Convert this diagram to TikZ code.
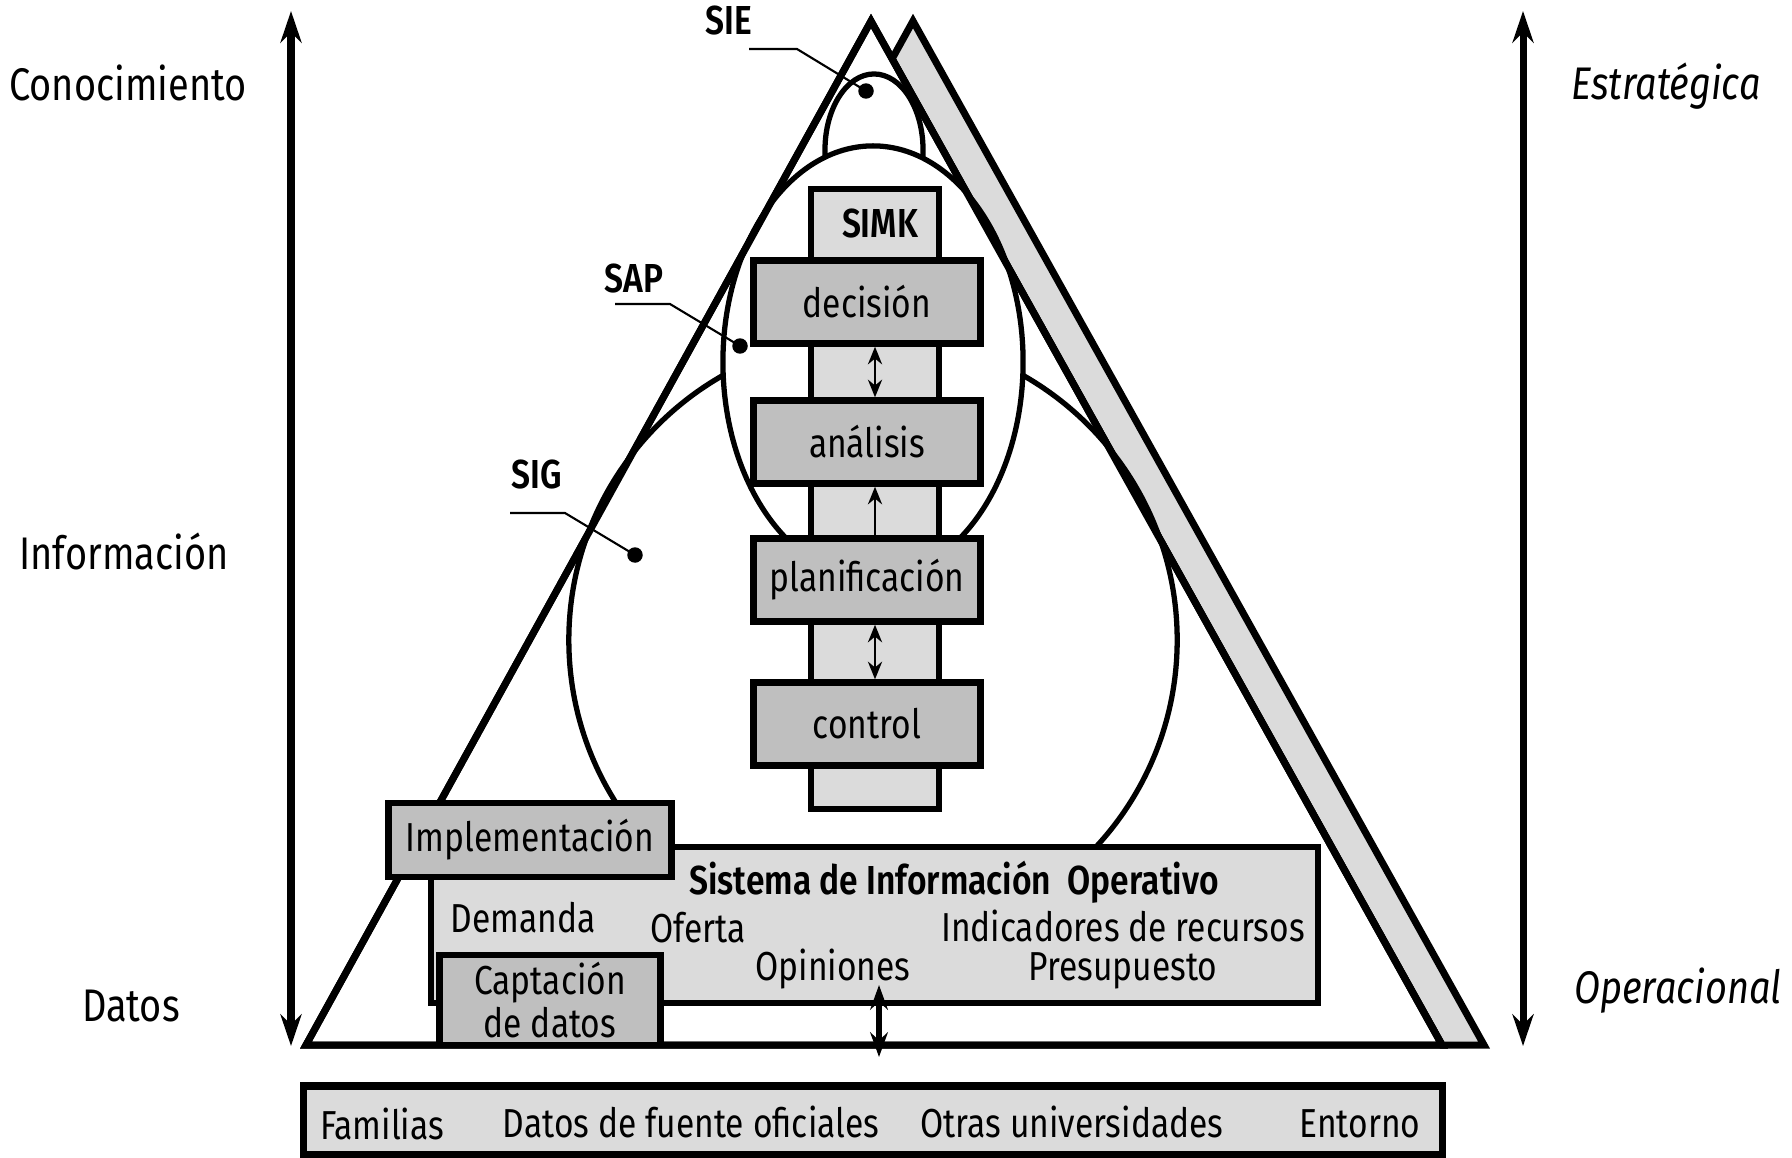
\documentclass[tikz,border=0pt]{standalone}
\usepackage{fontspec}
\setmainfont[FakeStretch=0.83,BoldFont={Fira Sans SemiBold},BoldFeatures={FakeStretch=0.83}]{Fira Sans}
\usetikzlibrary{arrows.meta}
\definecolor{claro}{gray}{0.86}
\definecolor{oscuro}{gray}{0.75}
\begin{document}
\begin{tikzpicture}[x=0.01cm,y=-0.01cm,
    font=\fontsize{11.5pt}{13pt}\selectfont,
    grueso/.style={line width=2pt},
    caja/.style={draw,line width=1.8pt,fill=oscuro,inner sep=0pt,minimum width=2.27cm,minimum height=0.83cm},
    guia/.style={line width=0.6pt},
    nivel/.style={font=\fontsize{13pt}{15pt}\selectfont},
    eje/.style={line width=2pt,{Stealth[length=9pt,width=6pt]}-{Stealth[length=9pt,width=6pt]}}]
    \useasboundingbox (0,0) rectangle (1792,1157);
    % ejes laterales
    \coordinate (ejeA) at (291,11);
    \coordinate (ejeB) at (291,1046);
    \coordinate (ejeC) at (1523,11);
    \coordinate (ejeD) at (1523,1046);
    \draw[eje] (ejeA) -- (ejeB);
    \draw[eje] (ejeC) -- (ejeD);
    \node[nivel] (conoc) at (128,83) {Conocimiento};
    \node[nivel] (info) at (124,551) {Información};
    \node[nivel] (datos) at (131,1006) {Datos};
    \node[nivel,font=\fontsize{13pt}{15pt}\selectfont\itshape] (estra) at (1666,86) {Estratégica};
    \node[nivel,font=\fontsize{13pt}{15pt}\selectfont\itshape] (opera) at (1678,991) {Operacional};
    % piramide y sombra
    \draw[grueso,fill=claro] (913,21) -- (1484,1045) -- (1442,1045) -- (892,59) -- cycle;
    \draw[grueso,fill=white] (871,21) -- (1442,1045) -- (306,1045) -- cycle;
    \draw[line width=1.5pt,fill=white] (873,640) circle[radius=3.04cm];
    \draw[line width=1.5pt,fill=white] (874,150) ellipse[x radius=0.49cm,y radius=0.76cm];
    \draw[line width=1.5pt,fill=white] (873,362) ellipse[x radius=1.50cm,y radius=2.16cm];
    \draw[grueso] (871,21) -- (1442,1045) -- (306,1045) -- cycle;
    % columna SIMK
    \node[draw,line width=1.8pt,fill=claro,minimum width=1.28cm,minimum height=6.2cm,inner sep=0pt] (col) at (875,499) {};
    \node[font=\fontsize{11.5pt}{13pt}\selectfont\bfseries] (simk) at (880,223) {SIMK};
    \node[caja] (dec) at (867,302) {decisión};
    \node[caja] (ana) at (867,442) {análisis};
    \node[caja] (pla) at (867,580) {planificación};
    \node[caja] (con) at (867,724) {control};
    \draw[line width=0.8pt,{Stealth[length=5pt,width=4pt]}-{Stealth[length=5pt,width=4pt]}] (dec.south -| col) -- (ana.north -| col);
    \draw[line width=0.8pt,-{Stealth[length=5pt,width=4pt]}] (pla.north -| col) -- (ana.south -| col);
    \draw[line width=0.8pt,{Stealth[length=5pt,width=4pt]}-{Stealth[length=5pt,width=4pt]}] (pla.south -| col) -- (con.north -| col);
    % etiquetas SIE, SAP, SIG
    \node[font=\fontsize{11.5pt}{13pt}\selectfont\bfseries] (sie) at (729,21) {SIE};
    \node[font=\fontsize{11.5pt}{13pt}\selectfont\bfseries] (sap) at (634,278) {SAP};
    \node[font=\fontsize{11.5pt}{13pt}\selectfont\bfseries] (sig) at (537,474) {SIG};
    \coordinate (pSIE) at (866,91);
    \coordinate (pSAP) at (740,346);
    \coordinate (pSIG) at (635,555);
    \draw[guia] (749,49) -- (797,49) -- (pSIE);
    \draw[guia] (615,304) -- (670,304) -- (pSAP);
    \draw[guia] (510,513) -- (565,513) -- (pSIG);
    \fill (pSIE) circle[radius=2.2pt];
    \fill (pSAP) circle[radius=2.2pt];
    \fill (pSIG) circle[radius=2.2pt];
    % sistema operativo
    \node[draw,line width=1.8pt,fill=claro,minimum width=8.87cm,minimum height=1.56cm,inner sep=0pt] (sio) at (874.5,925) {};
    \node[font=\fontsize{11.5pt}{13pt}\selectfont\bfseries] (titulo) at (954,882) {Sistema de Información\ \ Operativo};
    \node (demanda) at (523,918) {Demanda};
    \node (oferta) at (698,928) {Oferta};
    \node (indic) at (1123,926) {Indicadores de recursos};
    \node (opin) at (833,969) {Opiniones};
    \node (presu) at (1123,971) {Presupuesto};
    \node[caja,minimum width=2.83cm,minimum height=0.74cm] (impl) at (530,840) {Implementación};
    \node[caja,minimum width=2.21cm,minimum height=0.90cm,align=center,font=\fontsize{11.5pt}{12.5pt}\selectfont] (capt) at (550,1000) {Captación\\de datos};
    \coordinate (entrada) at (879,985);
    \coordinate (salida) at (879,1057);
    \draw[line width=1.8pt,{Stealth[length=7pt,width=5pt]}-{Stealth[length=7pt,width=5pt]}] (entrada) -- (salida);
    % fuentes externas
    \node[draw,grueso,fill=claro,minimum width=11.38cm,minimum height=0.68cm,inner sep=0pt] (fuentes) at (873,1120) {};
    \node (fam) at (382,1124) {Familias};
    \node (ofic) at (691,1122) {Datos de fuente oficiales};
    \node (otras) at (1072,1122) {Otras universidades};
    \node (ento) at (1360,1124) {Entorno};
\end{tikzpicture}
\end{document}
